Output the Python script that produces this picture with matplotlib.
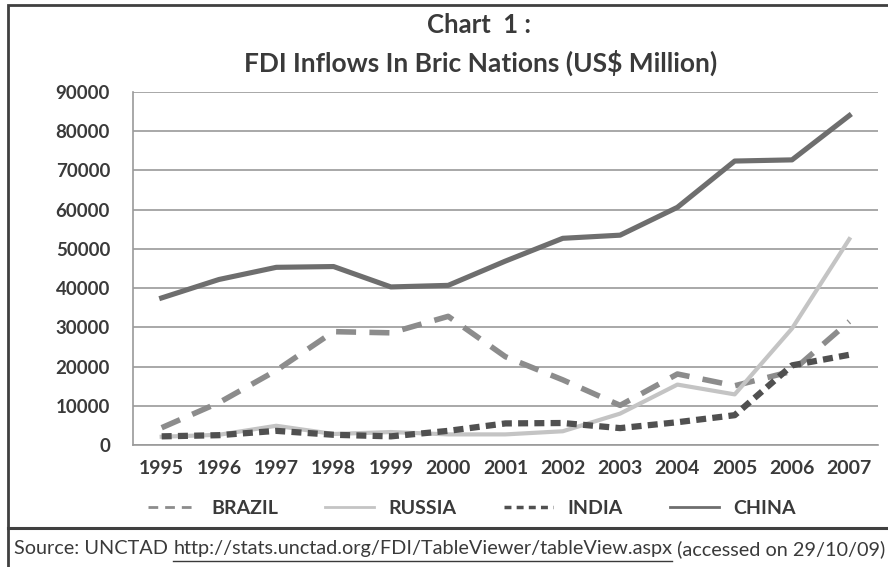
import numpy as np
import matplotlib.pyplot as plt
from matplotlib.lines import Line2D
from matplotlib.patches import Rectangle

# FDI inflows, US$ million
years = ['1995', '1996', '1997', '1998', '1999', '2000', '2001',
         '2002', '2003', '2004', '2005', '2006', '2007']
brazil = [4400, 10800, 19000, 28900, 28600, 32800, 22500,
          16600, 10100, 18100, 15100, 18800, 31500]
russia = [2100, 2600, 4900, 2800, 3300, 2700, 2700,
          3500, 8000, 15400, 12900, 29700, 52500]
india = [2200, 2500, 3600, 2600, 2200, 3600, 5500,
         5600, 4300, 5800, 7600, 20300, 23000]
china = [37500, 42200, 45300, 45500, 40300, 40700, 46900,
         52700, 53500, 60600, 72400, 72700, 84000]
yticks = list(range(0, 90001, 10000))

FONT = 'Lato'
TXT = '#3a3a3a'

fig = plt.figure(figsize=(8.88, 5.67), dpi=100)
ax = fig.add_axes([0.1498, 0.2152, 0.8389, 0.6225])

x = np.arange(len(years))
ax.plot(x, brazil, color='#8c8c8c', lw=4, dashes=(3.6, 2.4), label='BRAZIL',
        dash_capstyle='butt')
ax.plot(x, russia, color='#c4c4c4', lw=3, label='RUSSIA')
ax.plot(x, india, color='#505050', lw=4.5, dashes=(1.6, 1.0), label='INDIA',
        dash_capstyle='butt')
ax.plot(x, china, color='#6e6e6e', lw=3.7, label='CHINA')

ax.set_xlim(-0.5, len(years) - 0.5)
ax.set_ylim(0, 90000)
ax.set_xticks(x)
ax.set_xticklabels(years)
ax.set_yticks(yticks)
ax.set_yticklabels([str(v) for v in yticks])
ax.yaxis.grid(True, color='#9a9a9a', lw=1.2)
ax.set_axisbelow(True)
for s in ['top', 'right']:
    ax.spines[s].set_visible(False)
for s in ['left', 'bottom']:
    ax.spines[s].set_color('#9a9a9a')
    ax.spines[s].set_linewidth(1.2)
ax.tick_params(length=0, labelsize=14, labelcolor=TXT)
ax.tick_params(axis='y', labelsize=13.5)
ax.tick_params(axis='x', pad=11)
ax.tick_params(axis='y', pad=16.5)
for lab in ax.get_xticklabels() + ax.get_yticklabels():
    lab.set_fontfamily(FONT)
    lab.set_fontweight('bold')

fig.text(0.539, 0.956, 'Chart  1 :', ha='center', va='center', fontsize=18.5,
         family=FONT, fontweight='bold', color=TXT)
fig.text(0.541, 0.889, 'FDI Inflows In Bric Nations (US$ Million)', ha='center',
         va='center', fontsize=19, family=FONT, fontweight='bold', color=TXT)

handles = [
    Line2D([], [], color='#8c8c8c', lw=2, dashes=(3.5, 2.5)),
    Line2D([], [], color='#c4c4c4', lw=2),
    Line2D([], [], color='#505050', lw=2.5, dashes=(2, 1.5)),
    Line2D([], [], color='#6e6e6e', lw=2),
]
leg = fig.legend(handles, ['BRAZIL', 'RUSSIA', 'INDIA', 'CHINA'], ncol=4,
                 loc='center left', bbox_to_anchor=(138 / 888, 0.104), frameon=False,
                 borderpad=0, handlelength=2.5, columnspacing=2.45, handletextpad=0.75,
                 prop={'family': FONT, 'weight': 'bold', 'size': 14})
for t in leg.get_texts():
    t.set_color(TXT)

# frame and source box
fig.patches.append(Rectangle((0.009, -0.01), 1.0, 1.001, transform=fig.transFigure,
                             fill=False, lw=2, edgecolor='#404040'))
fig.lines.append(Line2D([0.009, 1.0], [0.069, 0.069], transform=fig.transFigure,
                        color='#404040', lw=2.2))

r = fig.canvas.get_renderer()
parts = ['Source: UNCTAD ', 'http://stats.unctad.org/FDI/TableViewer/tableView.aspx',
         ' (accessed on 29/10/09)']
xpos = 0.016
ypos = 0.032
for i, p in enumerate(parts):
    t = fig.text(xpos, ypos, p, ha='left', va='center', fontsize=14.3,
                 family=FONT, color=TXT)
    bb = t.get_window_extent(renderer=r)
    x0 = xpos
    xpos = bb.x1 / fig.bbox.width
    if i == 1:
        fig.lines.append(Line2D([x0, xpos], [0.01, 0.01], transform=fig.transFigure,
                                color=TXT, lw=1))

fig.savefig('out.png', dpi=100)
